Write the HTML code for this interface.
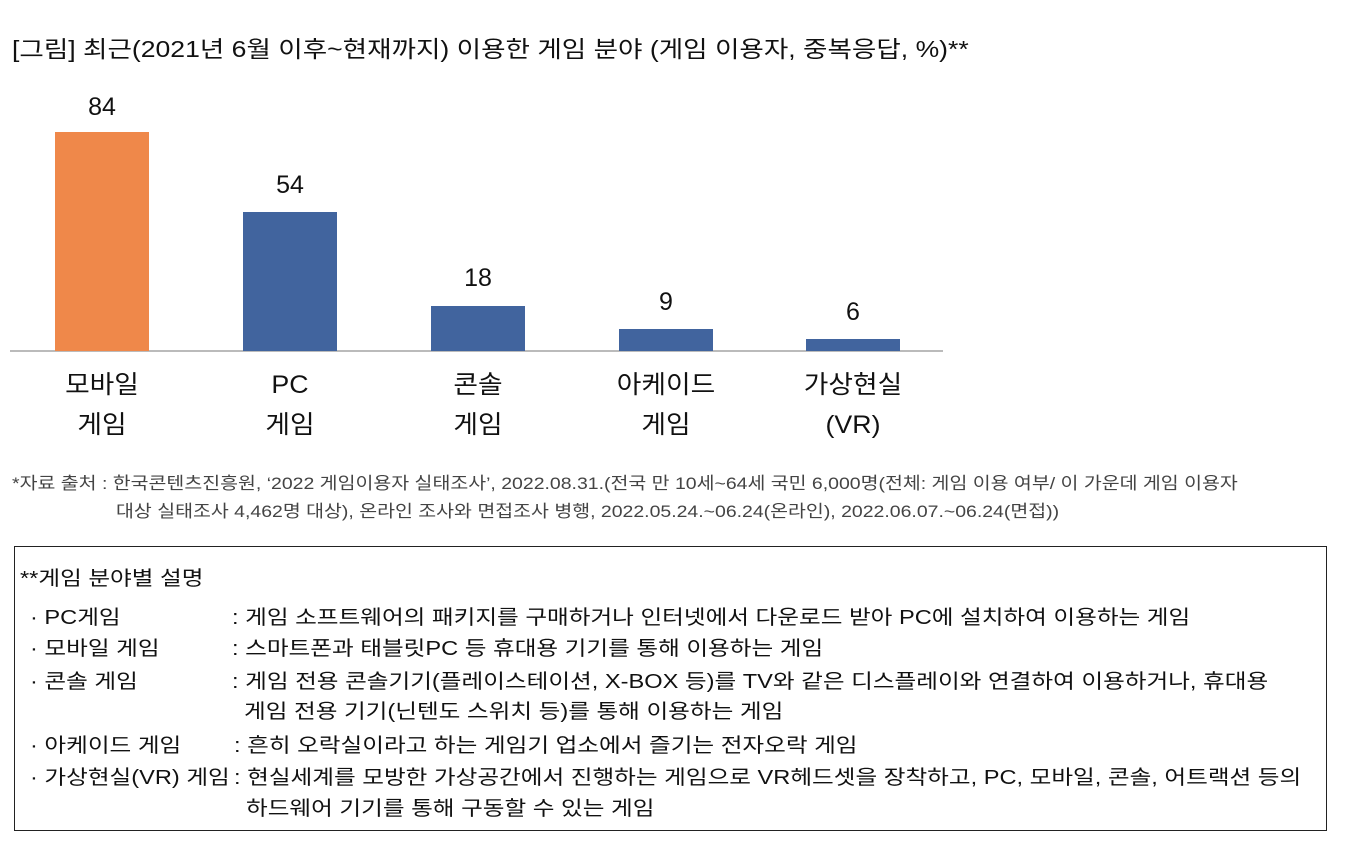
<!DOCTYPE html>
<html><head><meta charset="utf-8"><style>
body{margin:0;width:1352px;height:856px;background:#fff;position:relative;font-family:"Liberation Sans","Noto Sans CJK KR",sans-serif;color:#111;overflow:hidden}
.a{position:absolute;white-space:nowrap;transform-origin:0 0}
.bar{position:absolute;width:94px}
.v{position:absolute;width:94px;text-align:center;font-size:25px}
.c{position:absolute;width:140px;text-align:center;font-size:25px;line-height:40px;transform:scaleX(1.07)}
.f{font-size:17px;color:#444;transform:scaleX(1.144)}
.b{font-size:20px;transform:scaleX(1.18)}
</style></head><body>
<div class="a" style="left:12px;top:30px;font-size:23px;transform:scaleX(1.155)">[그림] 최근(2021년 6월 이후~현재까지) 이용한 게임 분야 (게임 이용자, 중복응답, %)**</div>
<div class="a" style="left:10px;top:350px;width:933px;height:2px;background:#bbb"></div>
<div class="bar" style="left:55px;top:132px;height:219px;background:#ef884a"></div>
<div class="bar" style="left:243px;top:212px;height:139px;background:#41649e"></div>
<div class="bar" style="left:431px;top:306px;height:45px;background:#41649e"></div>
<div class="bar" style="left:619px;top:329px;height:22px;background:#41649e"></div>
<div class="bar" style="left:806px;top:339px;height:12px;background:#41649e"></div>
<div class="v" style="left:55px;top:93px">84</div>
<div class="v" style="left:243px;top:171px">54</div>
<div class="v" style="left:431px;top:264px">18</div>
<div class="v" style="left:619px;top:288px">9</div>
<div class="v" style="left:806px;top:298px">6</div>
<div class="c" style="left:32px;top:365px">모바일<br>게임</div>
<div class="c" style="left:220px;top:365px">PC<br>게임</div>
<div class="c" style="left:408px;top:365px">콘솔<br>게임</div>
<div class="c" style="left:596px;top:365px">아케이드<br>게임</div>
<div class="c" style="left:783px;top:365px">가상현실<br>(VR)</div>
<div class="a f" style="left:12px;top:469px">*자료 출처 : 한국콘텐츠진흥원, ‘2022 게임이용자 실태조사’, 2022.08.31.(전국 만 10세~64세 국민 6,000명(전체: 게임 이용 여부/ 이 가운데 게임 이용자</div>
<div class="a f" style="left:116px;top:497px">대상 실태조사 4,462명 대상), 온라인 조사와 면접조사 병행, 2022.05.24.~06.24(온라인), 2022.06.07.~06.24(면접))</div>
<div class="a" style="left:14px;top:546px;width:1311px;height:283px;border:1px solid #222"></div>
<div class="a b" style="left:20px;top:562px">**게임 분야별 설명</div>
<div class="a b" style="left:30px;top:601px">· PC게임</div>
<div class="a b" style="left:30px;top:632px">· 모바일 게임</div>
<div class="a b" style="left:30px;top:665px">· 콘솔 게임</div>
<div class="a b" style="left:30px;top:729px">· 아케이드 게임</div>
<div class="a b" style="left:30px;top:761px">· 가상현실(VR) 게임</div>
<div class="a b" style="left:232px;top:601px">: 게임 소프트웨어의 패키지를 구매하거나 인터넷에서 다운로드 받아 PC에 설치하여 이용하는 게임</div>
<div class="a b" style="left:232px;top:632px">: 스마트폰과 태블릿PC 등 휴대용 기기를 통해 이용하는 게임</div>
<div class="a b" style="left:232px;top:665px">: 게임 전용 콘솔기기(플레이스테이션, X-BOX 등)를 TV와 같은 디스플레이와 연결하여 이용하거나, 휴대용</div>
<div class="a b" style="left:244px;top:695px">게임 전용 기기(닌텐도 스위치 등)를 통해 이용하는 게임</div>
<div class="a b" style="left:234px;top:729px">: 흔히 오락실이라고 하는 게임기 업소에서 즐기는 전자오락 게임</div>
<div class="a b" style="left:234px;top:761px">: 현실세계를 모방한 가상공간에서 진행하는 게임으로 VR헤드셋을 장착하고, PC, 모바일, 콘솔, 어트랙션 등의</div>
<div class="a b" style="left:246px;top:792px">하드웨어 기기를 통해 구동할 수 있는 게임</div>
</body></html>
